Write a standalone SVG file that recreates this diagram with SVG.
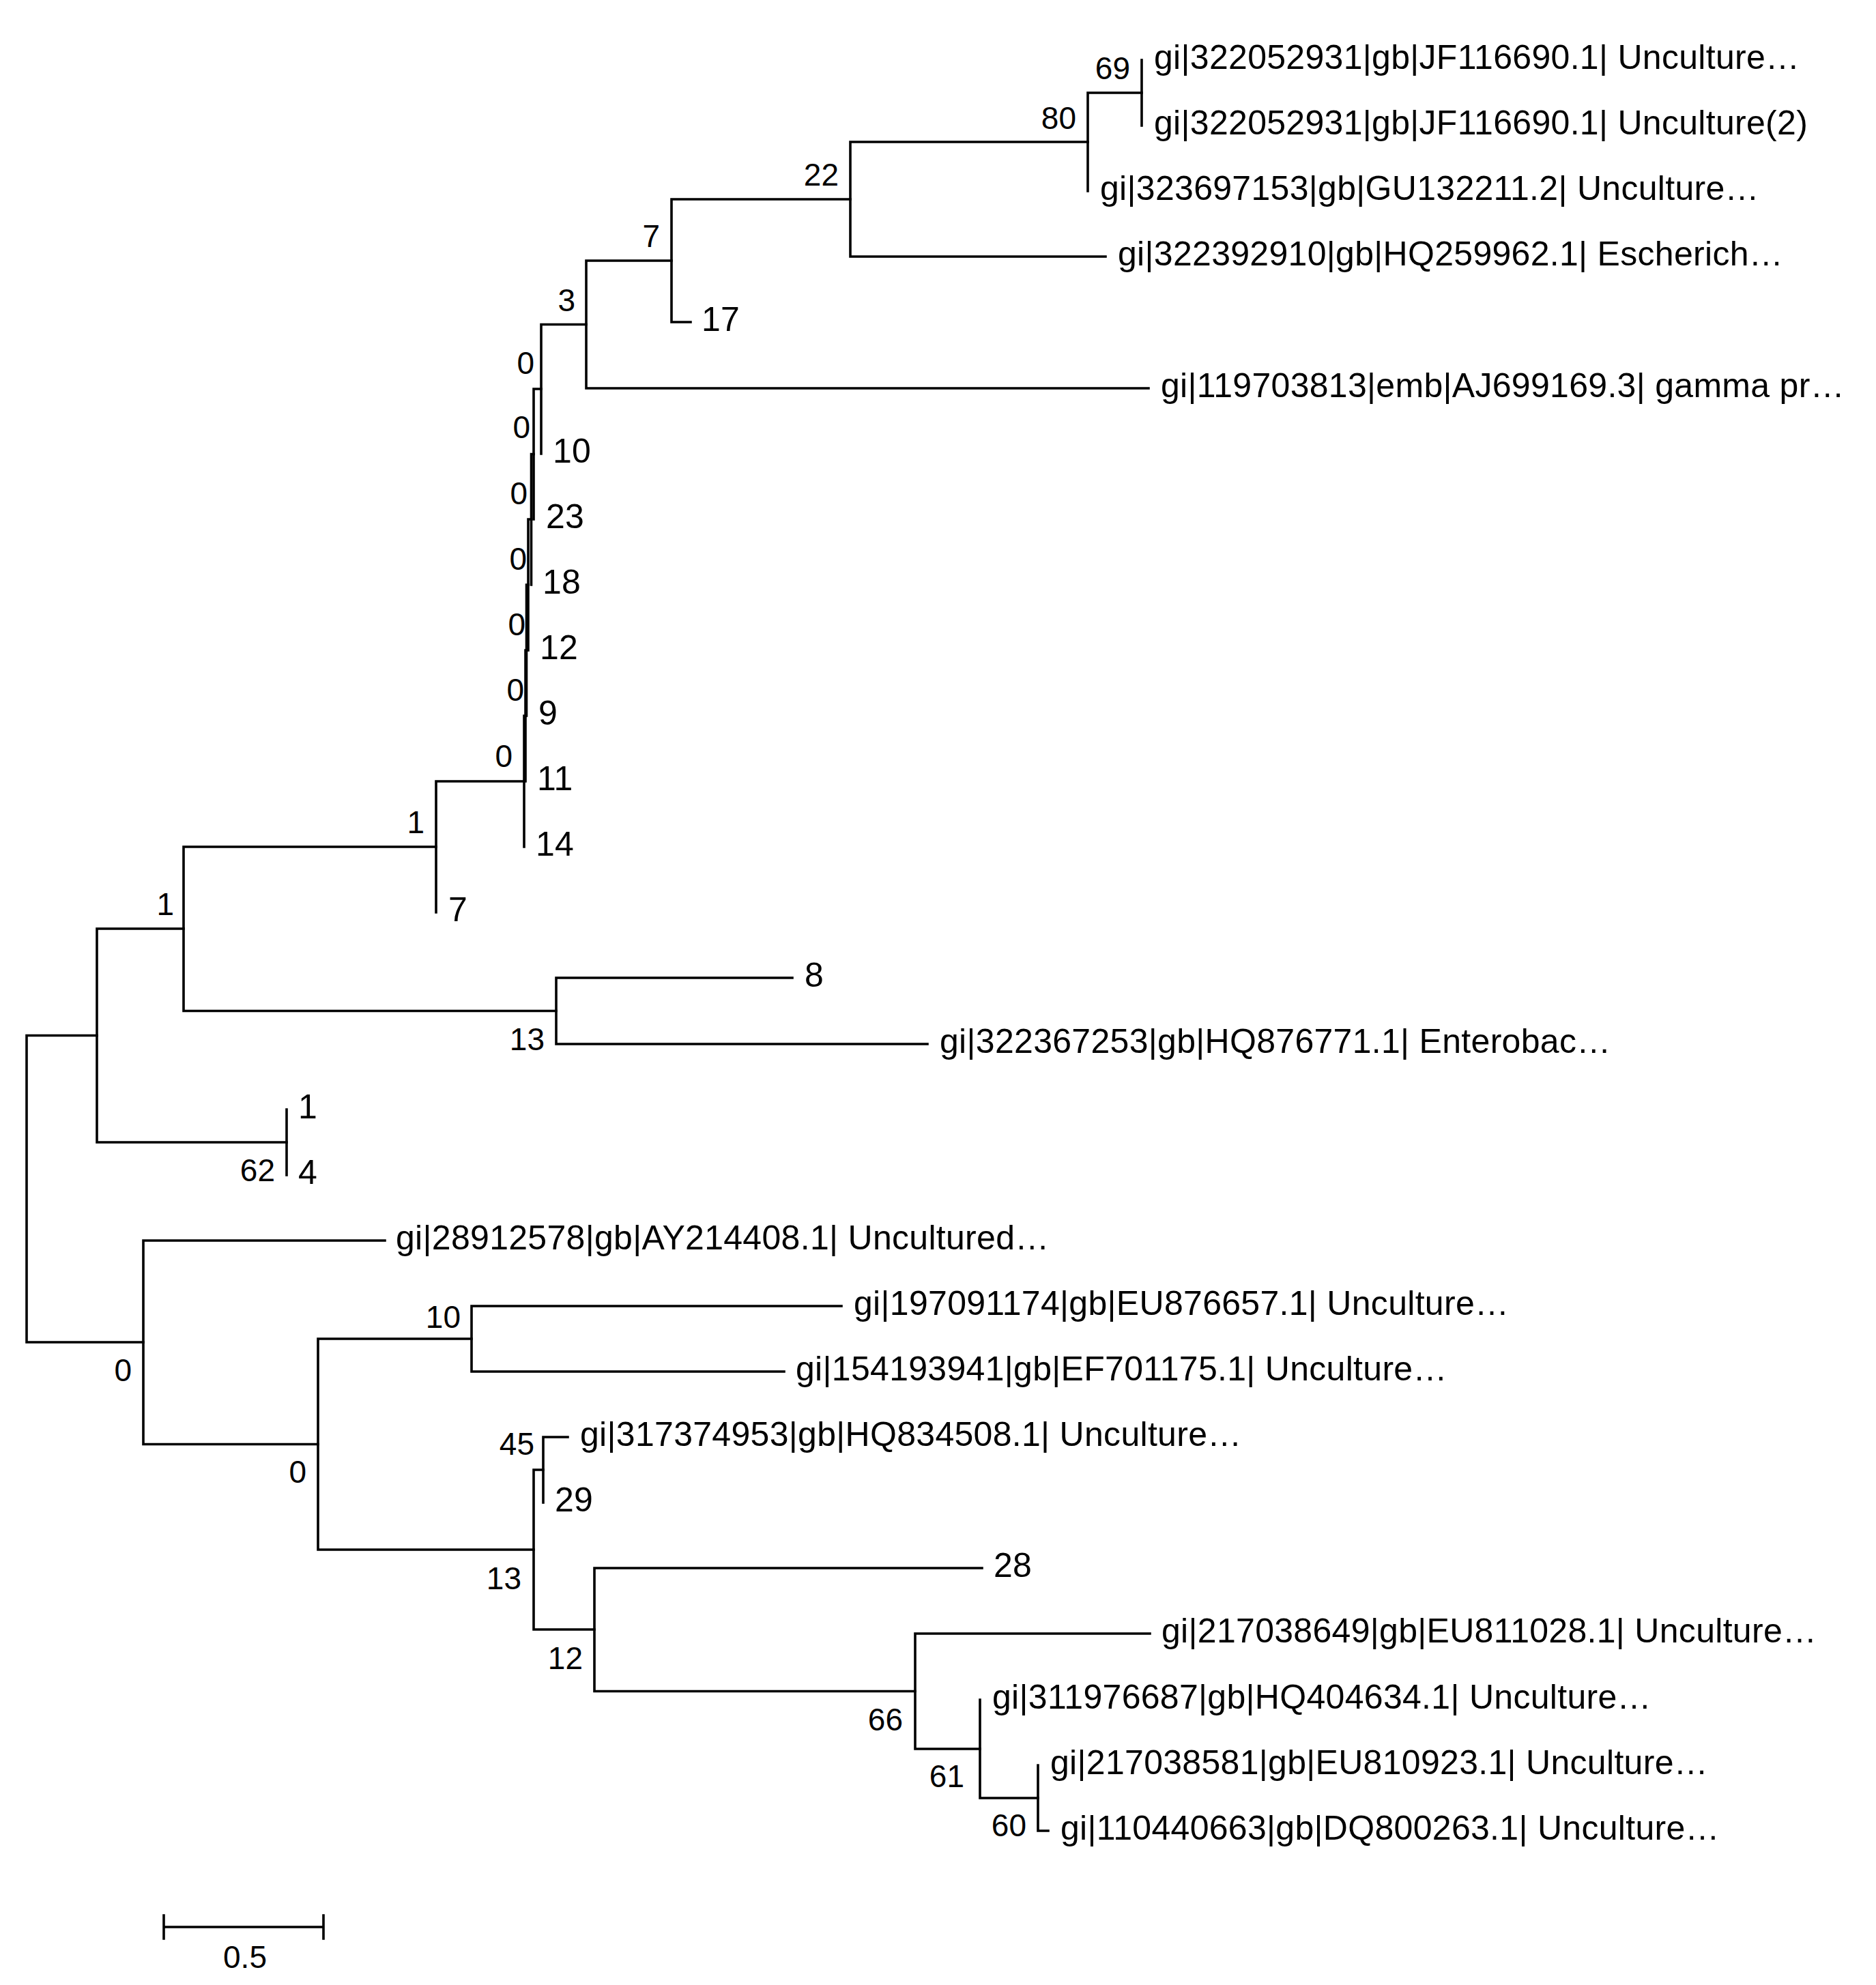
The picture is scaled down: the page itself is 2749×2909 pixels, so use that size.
<svg xmlns="http://www.w3.org/2000/svg" width="2749" height="2909" viewBox="0 0 2749 2909">
<style>
.br{fill:none;stroke:#000;stroke-width:3.6;stroke-linecap:square}
.lf{font-family:"Liberation Sans",Arial,sans-serif;font-size:50px;letter-spacing:0.3px;fill:#000}
.bs{font-family:"Liberation Sans",Arial,sans-serif;font-size:46px;fill:#000;text-anchor:end}
.sc{font-family:"Liberation Sans",Arial,sans-serif;font-size:46px;fill:#000;text-anchor:middle}
</style>
<rect x="0" y="0" width="2749" height="2909" fill="#fff"/>
<g id="connectors">
<path class="br" d="M39,1517.5V1967M39,1517.5H142M39,1967H210"/>
<path class="br" d="M142,1361V1674M142,1361H269M142,1674H420"/>
<path class="br" d="M269,1241V1481.5M269,1241H639M269,1481.5H815"/>
<path class="br" d="M639,1145V1337M639,1145H768"/>
<path class="br" d="M768,1049V1241M768,1049H770"/>
<path class="br" d="M770,953V1145M770,953H771.5"/>
<path class="br" d="M771.5,857V1049M771.5,857H774"/>
<path class="br" d="M774,761V953M774,761H778.5"/>
<path class="br" d="M778.5,665.5V857M778.5,665.5H782"/>
<path class="br" d="M782,570V761M782,570H793"/>
<path class="br" d="M793,475.5V665M793,475.5H859"/>
<path class="br" d="M859,382V569M859,382H984M859,569H1683"/>
<path class="br" d="M984,292V472M984,292H1246M984,472H1012"/>
<path class="br" d="M1246,208V376M1246,208H1594M1246,376H1620"/>
<path class="br" d="M1594,136V280M1594,136H1673"/>
<path class="br" d="M1673,88V184"/>
<path class="br" d="M815,1433V1530M815,1433H1161M815,1530H1359"/>
<path class="br" d="M420,1626V1722"/>
<path class="br" d="M210,1818V2116.5M210,1818H564M210,2116.5H466"/>
<path class="br" d="M466,1962V2271M466,1962H691M466,2271H782"/>
<path class="br" d="M691,1914V2010M691,1914H1233M691,2010H1149"/>
<path class="br" d="M782,2154V2388M782,2154H796M782,2388H871"/>
<path class="br" d="M796,2106V2202M796,2106H832"/>
<path class="br" d="M871,2298V2478.5M871,2298H1439M871,2478.5H1341"/>
<path class="br" d="M1341,2394V2563M1341,2394H1685M1341,2563H1436"/>
<path class="br" d="M1436,2491V2635M1436,2635H1521"/>
<path class="br" d="M1521,2587V2683M1521,2683H1536"/>
</g>
<g id="leaves">
<text id="leaf-jf116690a" class="lf" x="1691" y="101">gi|322052931|gb|JF116690.1| Unculture…</text>
<text id="leaf-jf116690b" class="lf" x="1691" y="197">gi|322052931|gb|JF116690.1| Unculture(2)</text>
<text id="leaf-gu132211" class="lf" x="1612" y="293">gi|323697153|gb|GU132211.2| Unculture…</text>
<text id="leaf-hq259962" class="lf" x="1638" y="389">gi|322392910|gb|HQ259962.1| Escherich…</text>
<text id="leaf-17" class="lf" x="1028" y="485">17</text>
<text id="leaf-aj699169" class="lf" x="1701" y="582">gi|119703813|emb|AJ699169.3| gamma pr…</text>
<text id="leaf-10" class="lf" x="810" y="678">10</text>
<text id="leaf-23" class="lf" x="800" y="774">23</text>
<text id="leaf-18" class="lf" x="795" y="870">18</text>
<text id="leaf-12" class="lf" x="791" y="966">12</text>
<text id="leaf-9" class="lf" x="789" y="1062">9</text>
<text id="leaf-11" class="lf" x="787" y="1158">11</text>
<text id="leaf-14" class="lf" x="785" y="1254">14</text>
<text id="leaf-7" class="lf" x="657" y="1350">7</text>
<text id="leaf-8" class="lf" x="1179" y="1446">8</text>
<text id="leaf-hq876771" class="lf" x="1377" y="1543">gi|322367253|gb|HQ876771.1| Enterobac…</text>
<text id="leaf-1" class="lf" x="437" y="1639">1</text>
<text id="leaf-4" class="lf" x="437" y="1735">4</text>
<text id="leaf-ay214408" class="lf" x="580" y="1831">gi|28912578|gb|AY214408.1| Uncultured…</text>
<text id="leaf-eu876657" class="lf" x="1251" y="1927">gi|197091174|gb|EU876657.1| Unculture…</text>
<text id="leaf-ef701175" class="lf" x="1166" y="2023">gi|154193941|gb|EF701175.1| Unculture…</text>
<text id="leaf-hq834508" class="lf" x="850" y="2119">gi|317374953|gb|HQ834508.1| Unculture…</text>
<text id="leaf-29" class="lf" x="813" y="2215">29</text>
<text id="leaf-28" class="lf" x="1456" y="2311">28</text>
<text id="leaf-eu811028" class="lf" x="1702" y="2407">gi|217038649|gb|EU811028.1| Unculture…</text>
<text id="leaf-hq404634" class="lf" x="1454" y="2504">gi|311976687|gb|HQ404634.1| Unculture…</text>
<text id="leaf-eu810923" class="lf" x="1539" y="2600">gi|217038581|gb|EU810923.1| Unculture…</text>
<text id="leaf-dq800263" class="lf" x="1554" y="2696">gi|110440663|gb|DQ800263.1| Unculture…</text>
</g>
<g id="support">
<text id="bs-69" class="bs" x="1656" y="116">69</text>
<text id="bs-80" class="bs" x="1577" y="189">80</text>
<text id="bs-22" class="bs" x="1229" y="272">22</text>
<text id="bs-7" class="bs" x="967" y="362">7</text>
<text id="bs-3" class="bs" x="843" y="456">3</text>
<text id="bs-0a" class="bs" x="783" y="548">0</text>
<text id="bs-0b" class="bs" x="777" y="642">0</text>
<text id="bs-0c" class="bs" x="773" y="739">0</text>
<text id="bs-0d" class="bs" x="772" y="835">0</text>
<text id="bs-0e" class="bs" x="770" y="931">0</text>
<text id="bs-0f" class="bs" x="768" y="1027">0</text>
<text id="bs-0g" class="bs" x="751" y="1124">0</text>
<text id="bs-1u" class="bs" x="622" y="1221">1</text>
<text id="bs-1l" class="bs" x="255" y="1341">1</text>
<text id="bs-13a" class="bs" x="798" y="1539">13</text>
<text id="bs-62" class="bs" x="403" y="1731">62</text>
<text id="bs-0h" class="bs" x="193" y="2024">0</text>
<text id="bs-10" class="bs" x="675" y="1946">10</text>
<text id="bs-0i" class="bs" x="449" y="2173">0</text>
<text id="bs-45" class="bs" x="783" y="2132">45</text>
<text id="bs-13b" class="bs" x="764" y="2329">13</text>
<text id="bs-12" class="bs" x="854" y="2446">12</text>
<text id="bs-66" class="bs" x="1323" y="2536">66</text>
<text id="bs-61" class="bs" x="1413" y="2619">61</text>
<text id="bs-60" class="bs" x="1504" y="2691">60</text>
</g>
<g id="scale-bar">
<path class="br" d="M240,2824H474M240,2807V2841M474,2807V2841"/>
<text class="sc" x="359" y="2884">0.5</text>
</g>
</svg>
